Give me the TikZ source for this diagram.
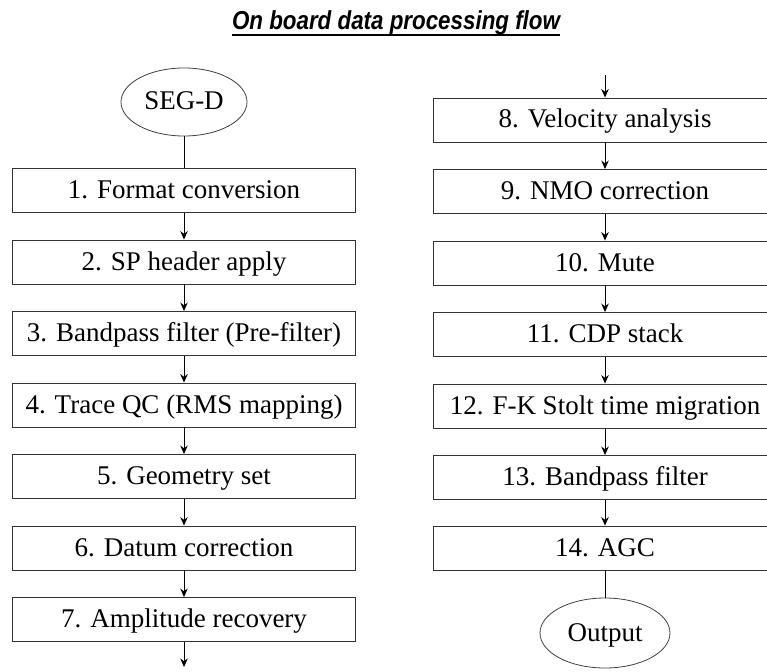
\documentclass[tikz,border=0pt]{standalone}
\usepackage{fontspec}
\setmainfont{Liberation Serif}
\newfontfamily\headfont{Liberation Sans}
\usetikzlibrary{arrows.meta,shapes.geometric}
\begin{document}
\begin{tikzpicture}[x=1pt,y=-1pt,
  stage/.style={draw=black!80, line width=0.9pt, minimum width=343pt,
    minimum height=44pt, inner sep=0pt, text height=20pt, text depth=4pt,
    font=\fontsize{27}{31}\selectfont},
  term/.style={draw=black!75, ellipse, line width=0.8pt, inner sep=0pt,
    text height=20pt, text depth=4pt, font=\fontsize{27}{31}\selectfont},
  flow/.style={line width=0.9pt, -{Stealth[length=8.5pt,width=7.5pt]}},
  link/.style={line width=0.9pt}]
\useasboundingbox (0,0) rectangle (767,671);
\clip (0,0) rectangle (767,671);

% heading, underlined
\node[anchor=base, inner sep=0pt,
  font=\headfont\bfseries\itshape\fontsize{26}{30}\selectfont]
  (title) at (396,30) {\scalebox{0.86}[1]{On board data processing flow}};
\draw[line width=1.4pt] ([yshift=-5pt]title.base west) -- ([yshift=-5pt]title.base east);

% left column
\node[term, minimum width=126pt, minimum height=68pt] (segd) at (184,102) {SEG-D};
\node[stage] (s1) at (184,190.5) {1. Format conversion};
\node[stage] (s2) at (184,262) {2. SP header apply};
\node[stage] (s3) at (184,333.5) {3. Bandpass filter (Pre-filter)};
\node[stage] (s4) at (184,405) {4. Trace QC (RMS mapping)};
\node[stage] (s5) at (184,476.5) {5. Geometry set};
\node[stage] (s6) at (184,548) {6. Datum correction};
\node[stage] (s7) at (184,619.5) {7. Amplitude recovery};
\coordinate (leftend) at (184,667);

% right column
\coordinate (rightstart) at (605,75);
\node[stage] (s8) at (605,120) {8. Velocity analysis};
\node[stage] (s9) at (605,191.5) {9. NMO correction};
\node[stage] (s10) at (605,263) {10. Mute};
\node[stage] (s11) at (605,334.5) {11. CDP stack};
\node[stage] (s12) at (605,406) {12. F-K Stolt time migration};
\node[stage] (s13) at (605,477.5) {13. Bandpass filter};
\node[stage] (s14) at (605,548) {14. AGC};
\node[term, minimum width=130pt, minimum height=70pt] (out) at (605,633) {Output};

% connectors
\draw[link] (segd.south) -- (s1.north);
\draw[flow] (s1) -- (s2);
\draw[flow] (s2) -- (s3);
\draw[flow] (s3) -- (s4);
\draw[flow] (s4) -- (s5);
\draw[flow] (s5) -- (s6);
\draw[flow] (s6) -- (s7);
\draw[flow] (s7.south) -- (leftend);

\draw[flow] (rightstart) -- (s8.north);
\draw[flow] (s8) -- (s9);
\draw[flow] (s9) -- (s10);
\draw[flow] (s10) -- (s11);
\draw[flow] (s11) -- (s12);
\draw[flow] (s12) -- (s13);
\draw[flow] (s13) -- (s14);
\draw[link] (s14.south) -- (out.north);
\end{tikzpicture}
\end{document}
